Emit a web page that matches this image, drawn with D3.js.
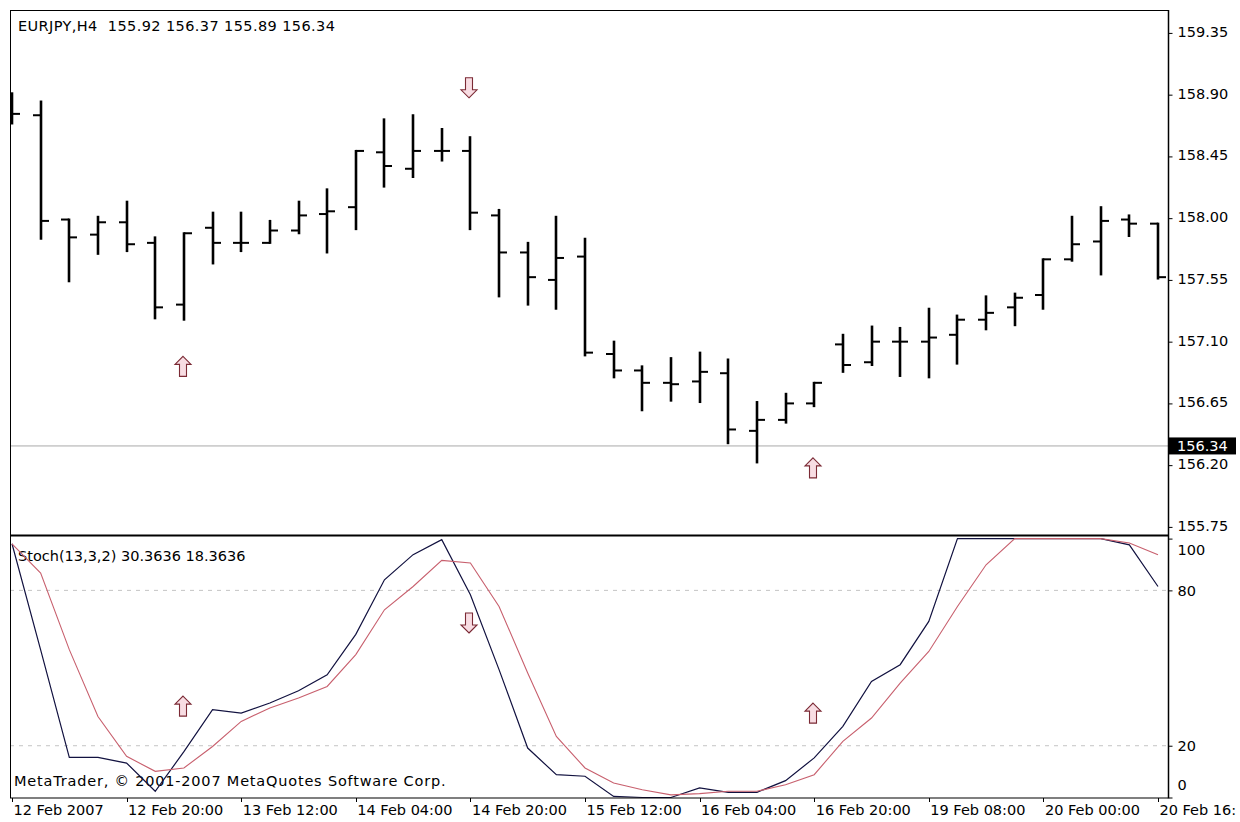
<!DOCTYPE html>
<html>
<head>
<meta charset="utf-8">
<script src="https://cdn.jsdelivr.net/npm/d3@7"></script>
<style>
  html, body { margin: 0; padding: 0; background: #fff; }
  svg { display: block; }
  text { font-family: "DejaVu Sans", Verdana, sans-serif; font-size: 14.5px; fill: #000; }
</style>
</head>
<body>
<svg id="chart" width="1240" height="822"></svg>
<script>
// EURJPY H4 bars, 12 Feb 2007 00:00 .. 20 Feb 2007 16:00
const opens  = [158.83,158.75,157.99,157.88,157.97,157.82,157.37,157.93,157.82,157.82,
                157.91,158.03,158.08,158.48,158.36,158.49,158.49,158.02,157.75,157.55,
                157.72,157.01,156.89,156.80,156.81,156.87,156.45,156.53,156.65,157.08,
                156.95,157.10,157.10,157.15,157.26,157.35,157.44,157.70,157.83,157.99,157.96];
const highs  = [158.91,158.85,157.99,158.01,158.12,157.86,157.89,158.04,158.04,157.98,
                158.12,158.21,158.49,158.72,158.75,158.65,158.59,158.06,157.82,158.01,
                157.85,157.10,156.92,156.98,157.02,156.97,156.66,156.72,156.80,157.15,
                157.21,157.20,157.34,157.29,157.43,157.45,157.70,158.01,158.08,158.02,157.96];
const lows   = [158.69,157.85,157.54,157.74,157.76,157.27,157.26,157.67,157.76,157.82,
                157.89,157.75,157.92,158.23,158.30,158.42,157.92,157.43,157.37,157.34,
                157.00,156.84,156.60,156.67,156.66,156.36,156.22,156.51,156.63,156.88,
                156.93,156.85,156.84,156.94,157.19,157.22,157.34,157.69,157.59,157.87,157.56];
const closes = [158.76,157.98,157.86,157.97,157.81,157.35,157.89,157.82,157.82,157.91,
                158.02,158.05,158.49,158.38,158.49,158.49,158.04,157.75,157.57,157.71,
                157.02,156.89,156.80,156.79,156.88,156.46,156.53,156.65,156.80,156.93,
                157.10,157.10,157.13,157.26,157.31,157.42,157.70,157.81,157.98,157.96,157.57];

// Stochastic (13,3,2): main and signal lines
const stochMain   = [98,57,15.5,15.5,13.3,2.4,17.7,33.9,32.6,36.5,
                     41.2,47.4,63,84.1,93.8,99.6,78.3,49.4,19.1,8.8,
                     8.2,0.4,0,0,3.7,2,2,6.5,15.3,27.5,
                     44.8,51.3,68,100,100,100,100,100,100,97.6,81.5];
const stochSignal = [98,86.7,57.1,31.3,15.9,10.1,11.4,19.7,29.4,34.6,
                     38.4,42.9,55.2,72.5,81.5,91.6,90.6,73.8,48.1,23.6,
                     11.4,5.6,3,1,1.5,2.4,2.4,4.9,8.8,21.7,
                     30.7,44.2,56.4,73.8,89.9,100,100,100,100,98.3,93.8];

const priceTicks  = [159.35,158.90,158.45,158.00,157.55,157.10,156.65,156.20,155.75];
const stochTicks  = [100,80,20,0];
const stochLevels = [80,20];
const timeTickBars   = [0,4,8,12,16,20,24,28,32,36,40];
const timeTickLabels = ["12 Feb 2007","12 Feb 20:00","13 Feb 12:00","14 Feb 04:00","14 Feb 20:00",
                        "15 Feb 12:00","16 Feb 04:00","16 Feb 20:00","19 Feb 08:00","20 Feb 00:00","20 Feb 16:"];
const bidPrice = 156.34;

// crossing signals
const signalBars        = [6,16,28];
const signalDirs        = ["up","down","up"];
const signalPriceLevels = [156.92,158.95,156.18];
const signalStochLevels = [35.3,67.4,32.6];

const titleText = "EURJPY,H4  155.92 156.37 155.89 156.34";
const stochText = "Stoch(13,3,2) 30.3636 18.3636";
const copyText  = "MetaTrader, \u00A9 2001-2007 MetaQuotes Software Corp.";

// ---- layout ----
const frameLeft = 10, axisX = 1168, frameTop = 10, sep = 536, frameBottom = 797.5;

const svg = d3.select("#chart");

const x = d3.scaleLinear().domain([0, opens.length - 1]).range([12, 1158]);
const yPrice = d3.scaleLinear().domain([155.691, 159.517]).range([535, frameTop]);
const yStoch = d3.scaleLinear().domain([0, 100]).range([797.5, 538.6]);
const xr = i => Math.round(x(i));

const defs = svg.append("defs");
defs.append("clipPath").attr("id", "clipPrice")
  .append("rect").attr("x", frameLeft + 1).attr("y", frameTop + 1)
  .attr("width", axisX - frameLeft - 1).attr("height", sep - frameTop - 2);
defs.append("clipPath").attr("id", "clipStoch")
  .append("rect").attr("x", frameLeft + 1).attr("y", sep)
  .attr("width", axisX - frameLeft - 1).attr("height", frameBottom - sep + 1);

// ---- price panel ----
const gp = svg.append("g").attr("clip-path", "url(#clipPrice)");

gp.append("line")
  .attr("x1", frameLeft).attr("x2", axisX)
  .attr("y1", yPrice(bidPrice)).attr("y2", yPrice(bidPrice))
  .attr("stroke", "#a9a9a9").attr("stroke-width", 1);

const bars = gp.selectAll("g.bar").data(opens).join("g").attr("class", "bar");
bars.append("line")
  .attr("x1", (d, i) => xr(i)).attr("x2", (d, i) => xr(i))
  .attr("y1", (d, i) => yPrice(highs[i]) - 1).attr("y2", (d, i) => yPrice(lows[i]) + 1)
  .attr("stroke", "#000").attr("stroke-width", 2.6);
bars.append("line")
  .attr("x1", (d, i) => xr(i) - 8).attr("x2", (d, i) => xr(i))
  .attr("y1", d => yPrice(d)).attr("y2", d => yPrice(d))
  .attr("stroke", "#000").attr("stroke-width", 2);
bars.append("line")
  .attr("x1", (d, i) => xr(i)).attr("x2", (d, i) => xr(i) + 8)
  .attr("y1", (d, i) => yPrice(closes[i])).attr("y2", (d, i) => yPrice(closes[i]))
  .attr("stroke", "#000").attr("stroke-width", 2);

function arrowPath(dir) {
  const p = [[0,-10],[8,-2],[3.5,-2],[3.5,10],[-3.5,10],[-3.5,-2],[-8,-2]];
  const s = dir === "up" ? 1 : -1;
  return "M" + p.map(q => q[0] + "," + (q[1] * s)).join("L") + "Z";
}
function drawArrows(g, yScale, levels) {
  g.selectAll("path.sig").data(signalBars).join("path")
    .attr("class", "sig")
    .attr("d", (d, i) => arrowPath(signalDirs[i]))
    .attr("transform", (d, i) => `translate(${xr(d) - 1},${yScale(levels[i])})`)
    .attr("fill", "#f8dde3").attr("stroke", "#7b2a35").attr("stroke-width", 1.1)
    .attr("stroke-linejoin", "miter");
}
drawArrows(gp, yPrice, signalPriceLevels);

svg.append("text").attr("x", 18).attr("y", 31).attr("xml:space", "preserve")
  .style("letter-spacing", "0.4px").text(titleText);

// ---- stochastic panel ----
const gs = svg.append("g").attr("clip-path", "url(#clipStoch)");

gs.selectAll("line.level").data(stochLevels).join("line")
  .attr("class", "level")
  .attr("x1", frameLeft).attr("x2", axisX)
  .attr("y1", d => yStoch(d)).attr("y2", d => yStoch(d))
  .attr("stroke", "#c4c4c4").attr("stroke-width", 1).attr("stroke-dasharray", "4,5");

gs.append("text").attr("x", 14).attr("y", 786).style("letter-spacing", "0.8px").text(copyText);
gs.append("text").attr("x", 18).attr("y", 561).text(stochText);

const line = d3.line().x((d, i) => x(i)).y(d => yStoch(d));
gs.append("path").datum(stochMain).attr("d", line)
  .attr("fill", "none").attr("stroke", "#121240").attr("stroke-width", 1.2);
gs.append("path").datum(stochSignal).attr("d", line)
  .attr("fill", "none").attr("stroke", "#c8606e").attr("stroke-width", 1.1);

drawArrows(gs, yStoch, signalStochLevels);

// ---- frame ----
const frame = svg.append("g").attr("fill", "none").attr("stroke", "#000");
frame.append("line").attr("x1", frameLeft).attr("x2", axisX).attr("y1", frameTop + 0.5).attr("y2", frameTop + 0.5).attr("stroke-width", 1);
frame.append("line").attr("x1", frameLeft + 0.5).attr("x2", frameLeft + 0.5).attr("y1", frameTop).attr("y2", frameBottom + 0.5).attr("stroke-width", 1);
frame.append("line").attr("x1", frameLeft).attr("x2", axisX).attr("y1", sep - 0.5).attr("y2", sep - 0.5).attr("stroke-width", 2.2);
frame.append("line").attr("x1", frameLeft).attr("x2", axisX).attr("y1", frameBottom + 0.5).attr("y2", frameBottom + 0.5).attr("stroke-width", 1.2);
frame.append("line").attr("x1", axisX + 0.5).attr("x2", axisX + 0.5).attr("y1", frameTop).attr("y2", frameBottom + 1).attr("stroke-width", 1.5);

// ---- axes ----
function styleAxis(g) {
  g.select(".domain").remove();
  g.selectAll(".tick line").attr("stroke", "#000");
  g.selectAll(".tick text").attr("fill", "#000")
    .style("font-family", '"DejaVu Sans", Verdana, sans-serif').style("font-size", "14.5px");
}

svg.append("g").attr("transform", `translate(${axisX + 0.5},0)`)
  .call(d3.axisRight(yPrice).tickValues(priceTicks).tickFormat(d3.format(".2f")).tickSize(4).tickPadding(5))
  .call(styleAxis)
  .selectAll(".tick text").attr("dy", "0.23em");

svg.append("g").attr("transform", `translate(${axisX + 0.5},0)`)
  .call(d3.axisRight(yStoch).tickValues(stochTicks).tickFormat(d3.format("d")).tickSize(4).tickPadding(5))
  .call(styleAxis)
  .selectAll(".tick text")
  .attr("dy", d => d === 100 ? "1.08em" : d === 0 ? "-0.57em" : "0.36em");

svg.append("g").attr("transform", `translate(0,${frameBottom + 0.5})`)
  .call(d3.axisBottom(x).tickValues(timeTickBars).tickFormat((d, i) => timeTickLabels[i]).tickSize(4).tickPadding(3))
  .call(styleAxis)
  .call(g => g.selectAll(".tick line").attr("transform", d => `translate(${xr(d) - x(d)},0)`))
  .selectAll(".tick text").attr("text-anchor", "start").attr("x", 1);

// current bid marker on the price scale
const bidG = svg.append("g");
bidG.append("rect")
  .attr("x", axisX + 1).attr("y", yPrice(bidPrice) - 8.5)
  .attr("width", 67).attr("height", 17).attr("fill", "#000");
bidG.append("text")
  .attr("x", axisX + 9).attr("y", yPrice(bidPrice)).attr("dy", "0.36em")
  .style("fill", "#fff").text(d3.format(".2f")(bidPrice));
</script>
</body>
</html>
